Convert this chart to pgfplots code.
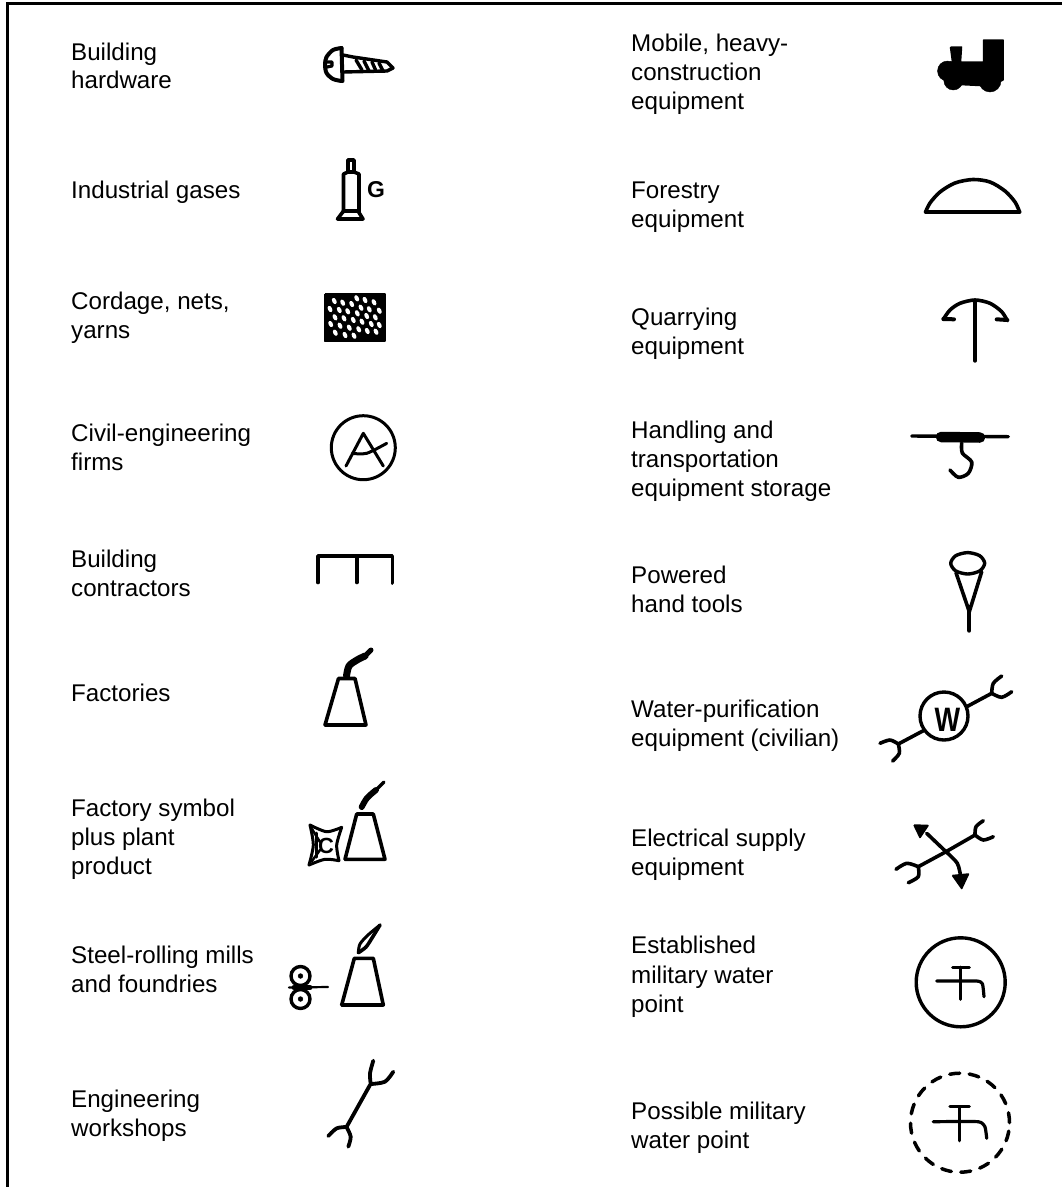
\documentclass[border=0pt]{standalone}
\usepackage{fontspec}
\setmainfont{Liberation Sans}
\usepackage{pgfplots}
\pgfplotsset{compat=1.18}
\pgfdeclareplotmark{oval}{\pgfpathellipse{\pgfpointorigin}{\pgfpoint{1.5bp}{-3bp}}{\pgfpoint{1.9bp}{0.95bp}}\pgfusepathqfill}
\tikzset{
  ln/.style={black,line width=#1,line cap=round,line join=round},
  ln/.default=3.6bp,
  sm/.style={black,line width=#1,line cap=round,line join=round,smooth},
  sm/.default=3.6bp,
  blk/.style={black,fill=black,line width=1.5bp,line join=round},
}
\newcommand{\txt}[3]{\node[anchor=base west,inner sep=0pt,font=\fontsize{24.25}{29}\selectfont] at (axis cs:#1,#2) {#3};}
\newcommand{\ring}[4]{\addplot[only marks,mark=o,mark size=#3bp,mark options={draw=black,fill=none,line width=#4bp}] coordinates {(#1,#2)};}
\begin{document}
\begin{tikzpicture}
\begin{axis}[scale only axis,width=1062bp,height=1187bp,xmin=0,xmax=1062,ymin=0,ymax=1187,y dir=reverse,hide axis,clip=true]
\addplot[draw=none,fill=white] coordinates {(0,0)(1062,0)(1062,1187)(0,1187)(0,0)};
% frame
\addplot[black,line width=3bp] coordinates {(7.5,1187)(7.5,3.2)(1062,3.2)};
% left column text
\txt{71}{60}{Building}\txt{71}{88.5}{hardware}
\txt{71}{198}{Industrial gases}
\txt{71}{309}{Cordage, nets,}\txt{71}{338}{yarns}
\txt{71}{441}{Civil-engineering}\txt{71}{470}{firms}
\txt{71}{567}{Building}\txt{71}{596}{contractors}
\txt{71}{701}{Factories}
\txt{71}{816}{Factory symbol}\txt{71}{845}{plus plant}\txt{71}{874}{product}
\txt{71}{963}{Steel-rolling mills}\txt{71}{992}{and foundries}
\txt{71}{1107}{Engineering}\txt{71}{1136}{workshops}
% right column text
\txt{631}{51}{Mobile, heavy-}\txt{631}{80}{construction}\txt{631}{109}{equipment}
\txt{631}{198}{Forestry}\txt{631}{227}{equipment}
\txt{631}{325}{Quarrying}\txt{631}{354}{equipment}
\txt{631}{438}{Handling and}\txt{631}{467}{transportation}\txt{631}{496}{equipment storage}
\txt{631}{583}{Powered}\txt{631}{612}{hand tools}
\txt{631}{717}{Water-purification}\txt{631}{746}{equipment (civilian)}
\txt{631}{846}{Electrical supply}\txt{631}{875}{equipment}
\txt{631}{953}{Established}\txt{631}{983}{military water}\txt{631}{1012}{point}
\txt{631}{1119}{Possible military}\txt{631}{1148}{water point}
% screw
\addplot[sm=4bp] coordinates {(341.5,48)(333,50)(326.5,57)(325,64.5)(326.5,73)(333,79)(341.5,81)};
\addplot[ln=4bp] coordinates {(341.5,48)(342.5,81)};
\addplot[ln=3.4bp] coordinates {(343,55)(353,57)(387,62)(393,68)(387,71)(343,72)};
\addplot[ln=3.4bp] coordinates {(356,60)(362,70)};
\addplot[ln=3.4bp] coordinates {(364,61)(369,71)};
\addplot[ln=3.4bp] coordinates {(372,62)(376,71)};
\addplot[ln=3.4bp] coordinates {(379,63)(383,71)};
\addplot[ln=3.2bp] coordinates {(327,62)(332,62)(332,66)(327,67)};
% gas cylinder
\addplot[ln] coordinates {(348,172)(348,160)(354,160)(354,172)};
\addplot[ln] coordinates {(343.5,212)(343.5,174)(348,172)(354,172)(359,174)(359,212)};
\addplot[ln] coordinates {(343.5,211)(337.5,219)(363,219)(358,211)(343.5,211)};
\node[anchor=base west,inner sep=0pt,font=\fontsize{23}{23}\selectfont\bfseries] at (axis cs:367,197) {G};
% netting
\addplot[blk] coordinates {(324.5,294)(385,294)(385,341)(324.5,341)(324.5,294)};
\addplot[only marks,mark=oval,white,mark options={fill=white,draw=none}] coordinates {
(334.3,301)(342.7,302.7)(351.7,304)(356.7,298.3)(365,300)(374,302.3)
(330,309)(339.3,310)(347.7,311.3)(361,307.7)(369.3,309.3)(379.3,310.7)
(335,317.3)(344,318.3)(357.3,313.3)(366.7,316)(375.3,317.3)
(353.3,320)(362,321.7)(371.3,324)(379.3,325)
(330.7,324)(340,325.7)(349.3,327.7)(358.7,329.3)(367.3,331)(376,331.7)
(335.3,332.7)(345,335)(354,335.7)};
% circled A
\ring{363.3}{447.7}{32}{3}
\addplot[ln=3bp] coordinates {(346,466)(363.3,433.3)(383.3,466)};
\addplot[sm=3bp] coordinates {(352.3,453.3)(366.7,453.3)(386.7,443.3)};
% contractors
\addplot[ln] coordinates {(318,582.5)(318,556)(392.3,556)(392.3,583)};
\addplot[ln] coordinates {(356.7,556)(356.7,582.5)};
% factory
\addplot[ln] coordinates {(325,725)(338.5,678.5)(355,678.5)(366,725)(325,725)};
\addplot[sm=7bp] coordinates {(346.5,676)(349,666)(357,660)(365,656)};
\addplot[sm=5bp] coordinates {(365,656)(371,650)};
% factory + product
\addplot[ln] coordinates {(345,859.3)(356.7,814)(373.3,814)(385,859.3)(345,859.3)};
\addplot[sm=6bp] coordinates {(361.7,807)(367,798)(376,790)};
\addplot[sm=3.5bp] coordinates {(376,790)(384,782)};
\addplot[sm=3bp] coordinates {(310,825)(326.7,831.7)(341.7,827.3)};
\addplot[sm=3bp] coordinates {(341.7,827.3)(336.7,845)(339,860.7)};
\addplot[sm=3bp] coordinates {(339,860.7)(325,859.3)(309,865)};
\addplot[sm=3bp] coordinates {(309,865)(313.3,845)(310,825)};
\addplot[ln=3bp] coordinates {(316,833)(316,857)};
\addplot[ln=2.5bp] coordinates {(312,829)(320,842)};
\addplot[ln=2.5bp] coordinates {(312,861)(320,850)};
\node[anchor=base,inner sep=0pt,font=\fontsize{22}{22}\selectfont\bfseries] at (axis cs:326,853) {C};
% rolling mill
\addplot[ln] coordinates {(341.7,1005)(354.3,958.3)(373.3,958.3)(383.3,1005)(341.7,1005)};
\addplot[sm=3bp] coordinates {(358.3,952.7)(360,944)(368,935)(380,925)};
\addplot[sm=3.6bp] coordinates {(358.3,952.7)(366,947)(372,938)(380,925)};
\ring{300.5}{976}{9.5}{3.4}
\ring{300.5}{999}{9.5}{3.4}
\addplot[only marks,mark=*,mark size=2.4bp,black] coordinates {(300.5,976)(300.5,999)};
\addplot[ln=5bp] coordinates {(294,987.5)(310,987.5)};
\addplot[ln=2.2bp] coordinates {(289,987.5)(328,987)};
% wrench
\addplot[ln=3.8bp] coordinates {(370,1085)(346.7,1126.7)};
\addplot[sm=3.8bp] coordinates {(373.3,1060.7)(370,1073.3)(370.7,1084)};
\addplot[sm=3.8bp] coordinates {(393.3,1071.7)(385,1081.7)(371,1084)};
\addplot[sm=3.8bp] coordinates {(328.3,1136)(336.7,1128.3)(346.7,1127)};
\addplot[sm=3.8bp] coordinates {(348.3,1146.7)(350.7,1136.7)(346.5,1127)};
% locomotive
\addplot[blk] coordinates {(950.5,47)(961.5,47)(960.5,62)(983.5,62)(983.5,40)(1003,40)(1003,80)(990,86)(950,84)(950,62)(952.5,62)(950.5,47)};
\addplot[only marks,mark=*,mark size=10bp,black] coordinates {(947.5,71)};
\addplot[only marks,mark=*,mark size=9.5bp,black] coordinates {(953.3,80.5)};
\addplot[only marks,mark=*,mark size=11bp,black] coordinates {(990,81)};
% dome
\addplot[sm] coordinates {(925.7,211.7)(930,203)(940,192)(955,183)(973,179.5)(990,182)(1005,191)(1015,202)(1019.5,211.7)};
\addplot[ln=4bp] coordinates {(925.7,211.7)(1019.5,211.7)};
% quarry pick
\addplot[ln=3.4bp] coordinates {(975,300.7)(975,361)};
\addplot[sm] coordinates {(943.3,319.3)(950,310)(960,303.3)(975,300)(990,303.3)(1001.7,311.7)(1007.3,320.7)};
\addplot[ln=4bp] coordinates {(943.3,319)(954,319.3)};
\addplot[ln=4bp] coordinates {(1007.3,320)(996.7,319.3)};
% hook
\addplot[ln=3.4bp] coordinates {(911.7,436)(1008.3,436.7)};
\addplot[ln=10.5bp] coordinates {(941,437)(980,437.5)};
\addplot[sm] coordinates {(961.7,443)(962.3,453)(971.7,462)(968.3,473.3)(958.3,477.3)(950,470)};
% powered hand tools
\addplot[sm=3.4bp,smooth cycle] coordinates {(984.7,563.3)(979.7,570.9)(967.7,574)(955.7,570.9)(950.7,563.3)(955.7,555.7)(967.7,552.6)(979.7,555.7)};
\addplot[ln] coordinates {(956,572.7)(969.3,611.7)(981.7,571.7)};
\addplot[ln=4bp] coordinates {(969.3,611.7)(969.3,630.7)};
% water purification
\ring{944}{716}{24}{3.4}
\node[anchor=base,inner sep=0pt,xscale=0.8,font=\fontsize{34}{34}\selectfont\bfseries] at (axis cs:947.5,731) {W};
\addplot[ln] coordinates {(966.7,706.7)(991.7,693.3)};
\addplot[sm] coordinates {(1001.7,676)(993.3,683.3)(991.7,693.3)};
\addplot[sm] coordinates {(1011.7,691.7)(1001.7,697.3)(991.7,693.3)};
\addplot[ln] coordinates {(923.3,730.7)(898.3,744)};
\addplot[sm] coordinates {(880,743.3)(890,740)(898.3,744)};
\addplot[sm] coordinates {(892.7,761)(899.3,753.3)(898.3,744)};
% electrical
\addplot[ln] coordinates {(918.3,866.7)(946,851.7)(975,835)};
\addplot[sm] coordinates {(983.3,820.7)(976,826.7)(975,835)};
\addplot[sm] coordinates {(993.3,836.7)(983.3,840)(975,835)};
\addplot[sm] coordinates {(896,869.3)(906.7,863.3)(918.3,866.7)};
\addplot[sm] coordinates {(908.3,882.7)(918.3,876.7)(918.3,866.7)};
\addplot[ln] coordinates {(946,851.7)(926.7,833.3)};
\addplot[blk] coordinates {(914,825)(928,825.5)(920,837.5)(914,825)};
\addplot[sm] coordinates {(946,851.7)(957.3,863.3)(960.7,876.7)};
\addplot[blk] coordinates {(952.5,875.5)(968.5,874)(961.7,888.5)(952.5,875.5)};
% military water point
\ring{960.7}{982.3}{44.5}{3.4}
\addplot[sm=3.2bp,tension=0.3] coordinates {(936.7,981)(976.7,981)(982.5,984)(984,996.7)};
\addplot[ln=3.2bp] coordinates {(960.7,967.3)(960.7,999.3)};
\addplot[ln=3.2bp] coordinates {(952.7,967.7)(969.3,967.7)};
% possible water point
\addplot[only marks,mark=o,mark size=49.5bp,mark options={draw=black,fill=none,line width=3.5bp,dash pattern=on 10bp off 9.5bp,line cap=round}] coordinates {(960,1122.7)};
\addplot[sm=3.2bp,tension=0.3] coordinates {(933.3,1121.7)(978.3,1121.7)(985,1127)(986.7,1138.3)};
\addplot[ln=3.2bp] coordinates {(959.3,1106.7)(959.3,1140.7)};
\addplot[ln=3.2bp] coordinates {(950,1106.7)(969.3,1106.7)};
\end{axis}
\end{tikzpicture}
\end{document}
